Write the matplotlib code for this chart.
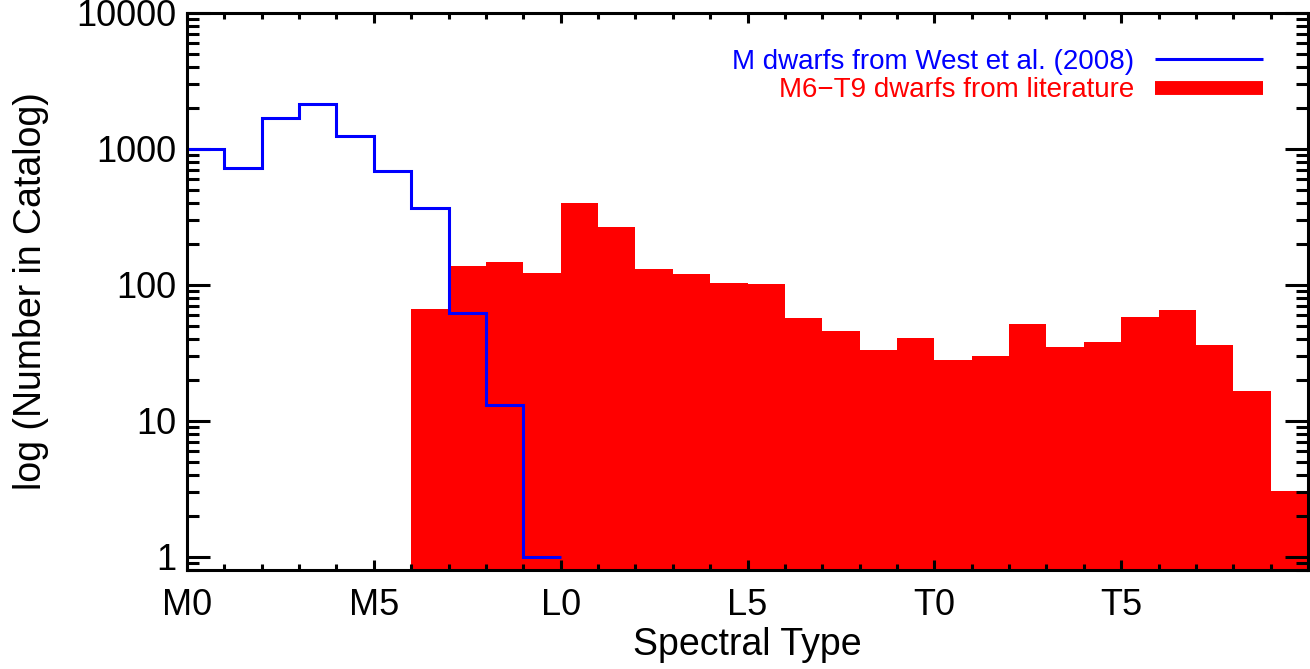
import numpy as np
import matplotlib
matplotlib.use('Agg')
import matplotlib.pyplot as plt
from matplotlib.lines import Line2D
from matplotlib.ticker import FixedLocator, LogLocator, NullFormatter, FuncFormatter

plt.rcParams['font.family'] = ['Liberation Sans', 'DejaVu Sans']

# Spectral type bins: 0 = M0, 10 = L0, 20 = T0
west_edges = np.arange(0, 11)
west_counts = [1000, 720, 1700, 2150, 1240, 690, 370, 62, 13, 1]

lit_start = 6  # M6
lit_counts = [67, 138, 148, 122, 400, 265, 132, 120, 104, 101,
              57, 46, 33, 41, 28, 30, 52, 35, 38, 58,
              65, 36, 16.5, 3.05]

tick_pos = [0, 5, 10, 15, 20, 25]
tick_labels = ['M0', 'M5', 'L0', 'L5', 'T0', 'T5']

fig = plt.figure(figsize=(13.1, 6.69), dpi=100)
ax = fig.add_axes([187 / 1310, 99 / 669, 1121 / 1310, 557 / 669])

lit_x = np.arange(lit_start, lit_start + len(lit_counts))
ax.bar(lit_x, lit_counts, width=1.0, align='edge', bottom=0.01,
       color='#ff0000', linewidth=0, zorder=1)
ax.stairs(west_counts, west_edges, baseline=None, color='#0000ff',
          linewidth=2.2, zorder=2)

ax.set_yscale('log')
ax.set_xlim(0, 30)
ax.set_ylim(0.8, 10000)

ax.xaxis.set_major_locator(FixedLocator(tick_pos))
ax.set_xticklabels(tick_labels)
ax.xaxis.set_minor_locator(FixedLocator(np.arange(0, 31)))
ax.yaxis.set_major_locator(FixedLocator([1, 10, 100, 1000, 10000]))
ax.yaxis.set_major_formatter(FuncFormatter(lambda v, p: '%d' % v))
ax.yaxis.set_minor_locator(LogLocator(base=10, subs=np.arange(2, 10), numticks=20))
ax.yaxis.set_minor_formatter(NullFormatter())

ax.tick_params(axis='both', which='both', direction='in', top=True, right=True,
               width=2.2, labelsize=26)
ax.tick_params(axis='x', which='major', length=7.5, pad=13)
ax.tick_params(axis='x', which='minor', length=4)
ax.tick_params(axis='y', which='major', length=16.5, pad=8)
ax.tick_params(axis='y', which='minor', length=8.5)
for s in ax.spines.values():
    s.set_linewidth(2.2)

ax.set_xlabel('Spectral Type', fontsize=27, labelpad=3)
ax.set_ylabel('log (Number in Catalog)', fontsize=27, labelpad=19)

handles = [Line2D([], [], color='#0000ff', linewidth=2.2, solid_capstyle='butt'),
           Line2D([], [], color='#ff0000', linewidth=10, solid_capstyle='butt')]
leg = ax.legend(handles, ['M dwarfs from West et al. (2008)',
                          'M6\u2212T9 dwarfs from literature'],
                loc='upper right', bbox_to_anchor=(0.960, 0.936), frameon=False,
                markerfirst=False, fontsize=20, handlelength=3.9,
                handletextpad=0.75, labelspacing=0.1, borderaxespad=0,
                borderpad=0)
for txt, c in zip(leg.get_texts(), ['#0000ff', '#ff0000']):
    txt.set_color(c)

plt.savefig('out.png', dpi=100)
